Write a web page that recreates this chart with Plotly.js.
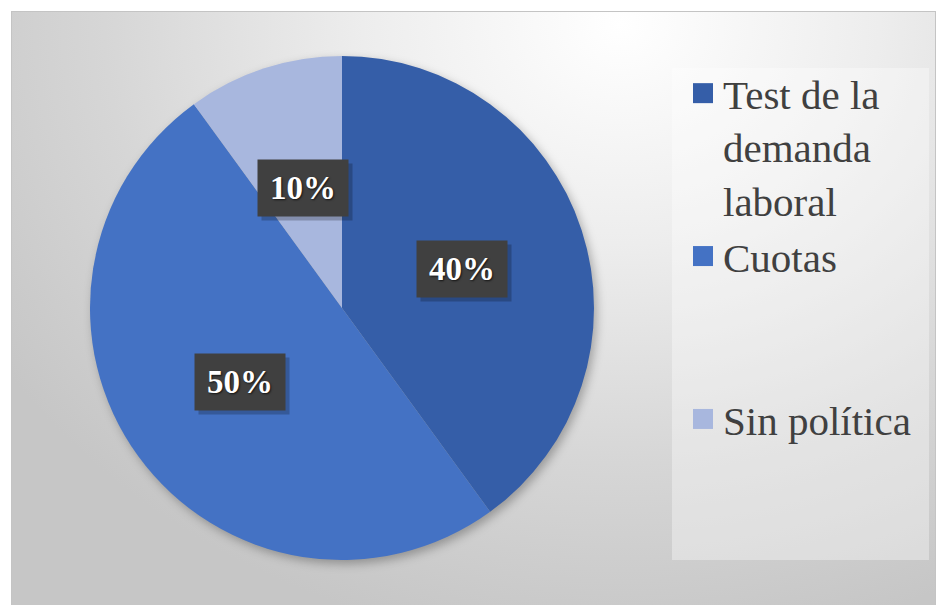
<!DOCTYPE html>
<html>
<head>
<meta charset="utf-8">
<script src="https://cdn.plot.ly/plotly-3.0.1.min.js"></script>
<style>
  html, body { margin: 0; padding: 0; background: #ffffff; }
  #wrap { position: relative; width: 938px; height: 605px; overflow: hidden; }
  #frame {
    position: absolute; left: 11px; top: 11px; width: 925px; height: 600px;
    border: 1px solid #c4c4c4; box-sizing: border-box;
    background: radial-gradient(ellipse 80% 105% at 66% 2%, #ffffff 0%, #ededed 35%, #d6d6d6 70%, #c6c6c6 100%);
  }
  #chart { position: absolute; left: 0; top: 0; width: 938px; height: 605px; }
  .pielayer .trace { filter: drop-shadow(3px 4px 5px rgba(0,0,0,0.28)); }
</style>
</head>
<body>
<div id="wrap">
  <div id="frame"></div>
  <div id="chart"></div>
</div>
<script>
// ---- data ----
var categories = ["Test de la<br>demanda<br>laboral", "Cuotas<br>&nbsp;<br>&nbsp;", "Sin política"];
var values = [40, 50, 10];
var colors = ["#355EA8", "#4472C4", "#A8B7DE"];

// ---- geometry of the pie (paper pixels) ----
var W = 938, H = 605;
var cx = 342, cy = 308, R = 252;

var total = values.reduce(function (a, b) { return a + b; }, 0);

// label boxes placed at mid-angle of each slice (clockwise from 12 o'clock)
var annotations = [];
var shadows = [];
var acc = 0;
values.forEach(function (v) {
  var mid = (acc + v / 2) / total * 2 * Math.PI;
  acc += v;
  var px = cx + 0.5 * R * Math.sin(mid);
  var py = cy - 0.5 * R * Math.cos(mid);
  var txt = Math.round(v / total * 100) + "%";
  var base = {
    x: px / W, y: 1 - py / H, xref: "paper", yref: "paper",
    showarrow: false, width: 88, height: 54, xanchor: "center", yanchor: "middle"
  };
  shadows.push(Object.assign({}, base, {
    text: "&nbsp;", xshift: 4, yshift: -4,
    bgcolor: "rgba(0,0,0,0.22)",
    font: { family: "Liberation Serif, serif", size: 10, color: "rgba(0,0,0,0)" }
  }));
  annotations.push(Object.assign({}, base, {
    text: "<b>" + txt + "</b>",
    bgcolor: "#404040",
    font: { family: "Liberation Serif, serif", size: 33, color: "#ffffff",
            shadow: "1px 1px 2px rgba(0,0,0,0.7)" }
  }));
});

var trace = {
  type: "pie",
  labels: categories,
  values: values,
  sort: false,
  direction: "clockwise",
  rotation: 0,
  textinfo: "none",
  hoverinfo: "label+percent",
  marker: { colors: colors, line: { width: 0 } },
  domain: { x: [(cx - R) / W, (cx + R) / W], y: [1 - (cy + R) / H, 1 - (cy - R) / H] }
};

var layout = {
  width: W, height: H,
  margin: { l: 0, r: 0, t: 0, b: 0 },
  paper_bgcolor: "rgba(0,0,0,0)",
  plot_bgcolor: "rgba(0,0,0,0)",
  showlegend: true,
  legend: {
    x: 683 / W, y: 1 - 60 / H, xanchor: "left", yanchor: "top",
    bgcolor: "rgba(0,0,0,0)", borderwidth: 0,
    valign: "top",
    font: { family: "Liberation Serif, serif", size: 41, color: "#404040" }
  },
  shapes: [{
    type: "rect", xref: "paper", yref: "paper", layer: "below",
    x0: 672 / W, x1: 929 / W, y0: 1 - 560 / H, y1: 1 - 68 / H,
    fillcolor: "rgba(255,255,255,0.35)", line: { width: 0 }
  }],
  annotations: shadows.concat(annotations)
};

Plotly.newPlot("chart", [trace], layout, { displayModeBar: false, staticPlot: true }).then(function () {
  document.querySelectorAll("path.legendpie").forEach(function (p) {
    p.setAttribute("d", "M10,10V-10H-10V10Z");
  });
});
</script>
</body>
</html>
